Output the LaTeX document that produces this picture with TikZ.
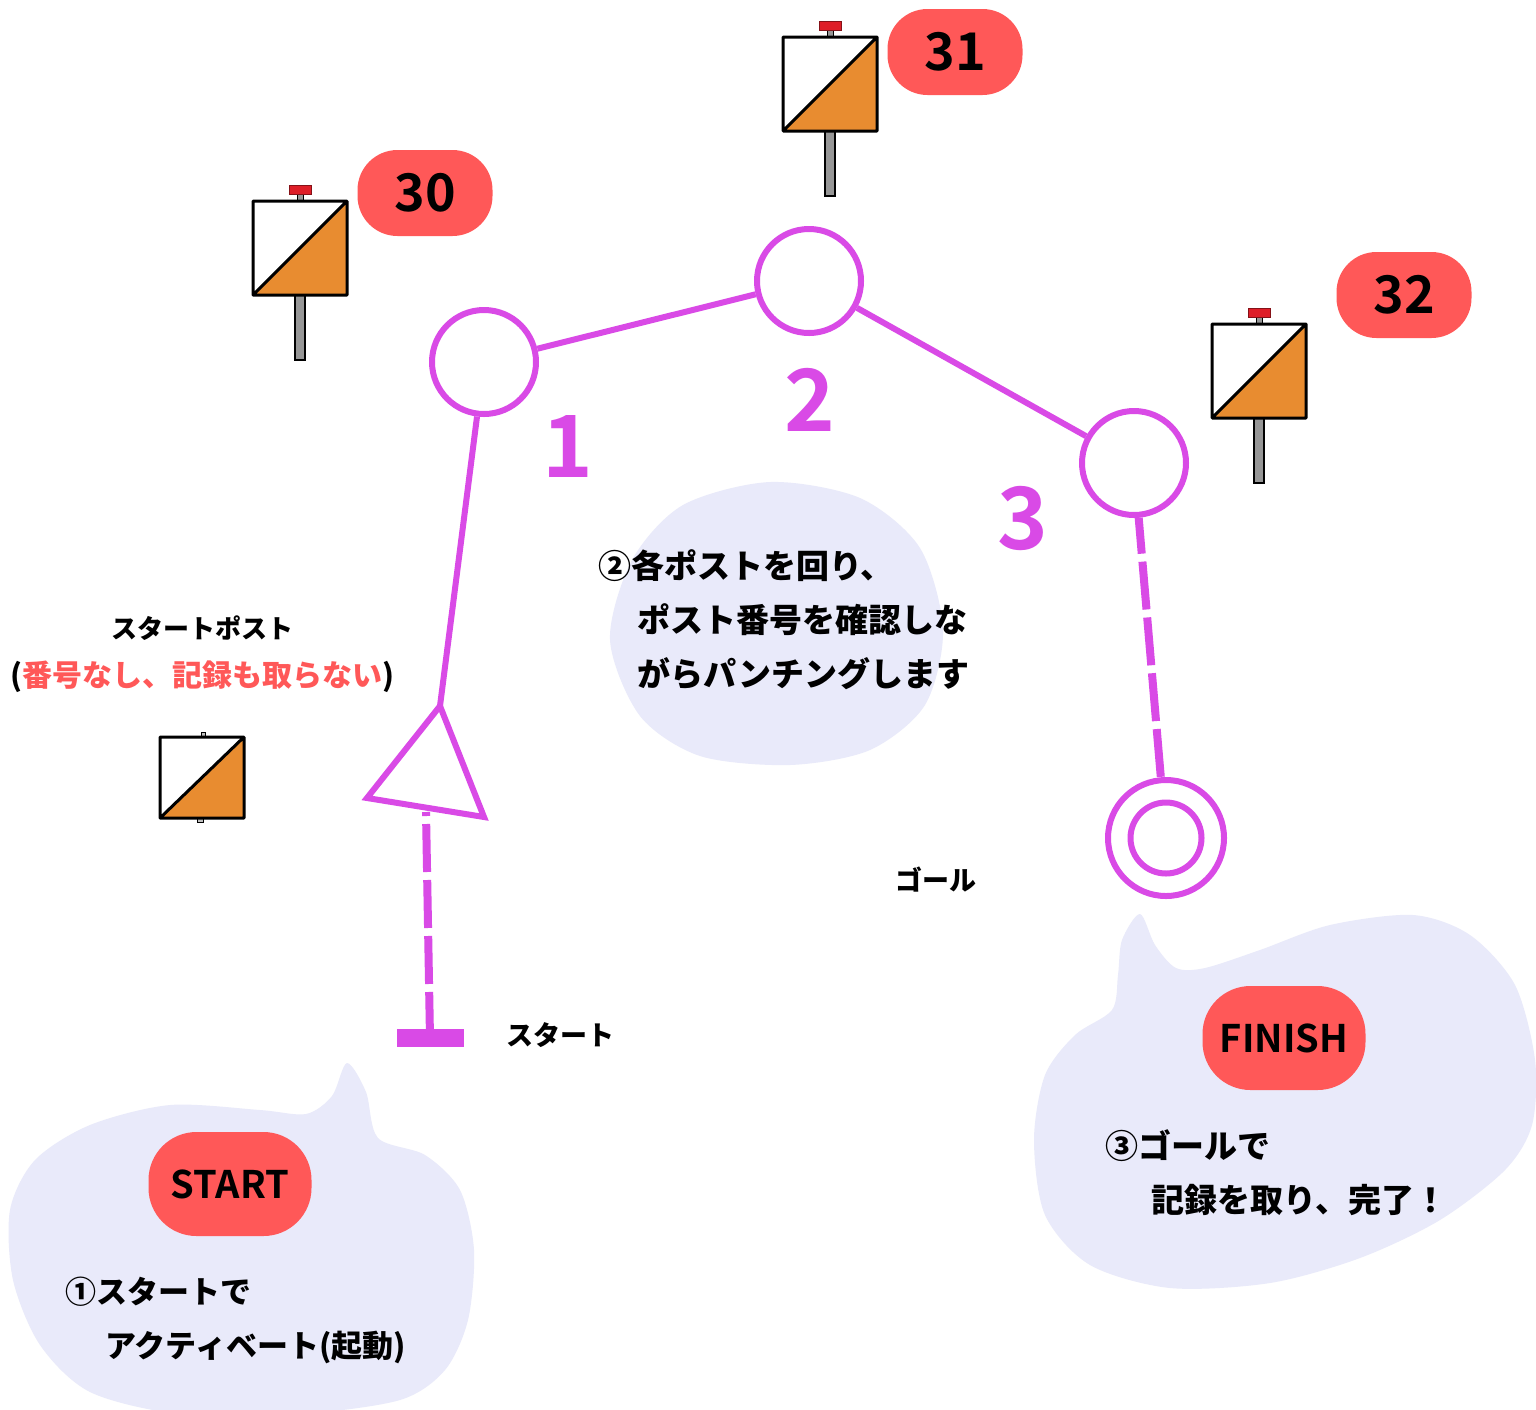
\documentclass[tikz,border=0pt]{standalone}
\usepackage{fontspec}
\usepackage{xcolor}
\newfontfamily\jpfont{Noto Sans CJK JP Bold}
\newfontfamily\jpheavy{Noto Sans CJK JP Black}
\definecolor{coursemag}{RGB}{217,74,230}
\definecolor{tagred}{RGB}{255,88,88}
\definecolor{bubblebg}{RGB}{233,234,250}
\definecolor{flagorange}{RGB}{232,140,48}
\definecolor{capred}{RGB}{222,30,40}
\definecolor{polegray}{RGB}{150,150,150}

\begin{document}
\begin{tikzpicture}[x=1pt,y=-1pt,
    post/.style={circle,draw=coursemag,line width=6pt,minimum size=104pt,inner sep=0pt},
    leg/.style={coursemag,line width=6pt},
    legdash/.style={coursemag,line width=8pt,dash pattern=on 48pt off 8pt},
    legnum/.style={text=coursemag,font=\jpfont\fontsize{86}{86}\selectfont},
    numtag/.style={fill=tagred,rounded corners=40pt,minimum width=135pt,minimum height=86pt,inner sep=0pt,font=\jpfont\fontsize{52}{52}\selectfont},
    bigtag/.style={numtag,rounded corners=48pt,minimum width=163pt,minimum height=104pt,font=\jpfont\fontsize{38}{38}\selectfont},
    note/.style={font=\jpheavy\fontsize{33}{54}\selectfont,align=left,inner sep=0pt},
    lbl/.style={font=\jpheavy\fontsize{27}{27}\selectfont,inner sep=0pt}]
        \useasboundingbox (0,0) rectangle (1536,1409);
        \fill[white] (0,0) rectangle (1536,1409);
        % speech bubbles
        \fill[bubblebg] plot[smooth cycle] coordinates {(610,640) (632,560) (683,505) (770,482) (860,498) (920,548) (943,630) (925,705) (870,750) (790,765) (700,756) (640,716)};
        \fill[bubblebg] plot[smooth cycle] coordinates {(347,1063) (366,1092) (378,1138) (425,1155) (460,1190) (474,1250) (468,1320) (445,1370) (400,1400) (300,1414) (180,1414) (90,1392) (40,1345) (13,1280) (10,1210) (35,1160) (90,1125) (170,1105) (260,1110) (306,1114) (332,1096)};
        \fill[bubblebg] plot[smooth cycle] coordinates {(1140,914) (1155,945) (1176,968) (1205,968) (1260,950) (1330,925) (1413,915) (1470,935) (1515,985) (1535,1060) (1532,1125) (1505,1170) (1440,1220) (1360,1258) (1270,1283) (1170,1288) (1090,1265) (1045,1215) (1034,1140) (1045,1075) (1075,1035) (1112,1010) (1118,975) (1122,940)};
        % course
        \node[post] (p1) at (484,362) {};
        \node[post] (p2) at (809,281) {};
        \node[post] (p3) at (1134,463) {};
        \draw[leg] (p1) -- (p2) -- (p3);
        \coordinate (tritop) at (440,706);
        \coordinate (trileft) at (367,798);
        \coordinate (triright) at (484,817);
        \coordinate (tribase) at (426,812);
        \draw[leg] (p1) -- (tritop);
        \draw[leg,line join=miter] (tritop) -- (trileft) -- (triright) -- cycle;
        \node[fill=coursemag,minimum width=67pt,minimum height=18pt,inner sep=0pt] (startbar) at (430,1038) {};
        \draw[legdash,dash phase=44pt] (tribase) -- (startbar.center);
        \node[post,minimum size=116pt] (goal) at (1166,838) {};
        \node[post,minimum size=71pt] (goalin) at (goal) {};
        \draw[legdash,dash phase=12pt] (p3) -- (goal);
        \node[legnum] (n1) at (568,446) {1};
        \node[legnum] (n2) at (810,400) {2};
        \node[legnum] (n3) at (1023,518) {3};
        % control flags
        \foreach \fx/\fy in {300/248,830/84,1259/371} {
          \filldraw[fill=polegray,line width=1.2pt] (\fx-5,\fy+47) rectangle (\fx+5,\fy+112);
          \filldraw[fill=polegray,line width=1pt] (\fx-3,\fy-56) rectangle (\fx+3,\fy-47);
          \filldraw[fill=capred,draw=capred!60!black,line width=1pt] (\fx-11,\fy-63) rectangle (\fx+11,\fy-54);
          \fill[white] (\fx-47,\fy-47) rectangle (\fx+47,\fy+47);
          \fill[flagorange] (\fx-47,\fy+47) -- (\fx+47,\fy-47) -- (\fx+47,\fy+47) -- cycle;
          \draw[line width=3pt,line join=round] (\fx-47,\fy-47) rectangle (\fx+47,\fy+47)
                (\fx-47,\fy+47) -- (\fx+47,\fy-47);
        }
        \filldraw[fill=polegray!60,line width=.8pt] (201,732) rectangle (205,737) (197,818) rectangle (203,822);
        \fill[white] (160,737) rectangle (244,818);
        \fill[flagorange] (160,818) -- (244,737) -- (244,818) -- cycle;
        \draw[line width=3pt,line join=round] (160,737) rectangle (244,818) (160,818) -- (244,737);
        % tags
        \node[numtag] (tag30) at (425,193) {30};
        \node[numtag] (tag31) at (955,52) {31};
        \node[numtag] (tag32) at (1404,295) {32};
        \node[bigtag] (starttag) at (230,1184) {START};
        \node[bigtag] (finishtag) at (1284,1038) {FINISH};
        % texts
        \node[lbl,font=\jpheavy\fontsize{26}{26}\selectfont] (sptitle) at (202,628) {スタートポスト};
        \node[lbl,font=\jpheavy\fontsize{30}{30}\selectfont] (spnote) at (202,677) {(\textcolor{tagred}{番号なし、記録も取らない})};
        \node[lbl] (startlbl) at (560,1035) {スタート};
        \node[lbl] (goallbl) at (936,880) {ゴール};
        \node[note,anchor=west] (note2) at (598,620) {②各ポストを回り、\\\hspace*{1.2em}ポスト番号を確認しな\\\hspace*{1.2em}がらパンチングします};
        \node[note,anchor=west,font=\jpheavy\fontsize{31}{54}\selectfont] (note1) at (65,1320) {①スタートで\\\hspace*{1.3em}アクティベート(起動)};
        \node[note,anchor=west] (note3) at (1105,1173) {③ゴールで\\\hspace*{1.4em}記録を取り、完了！};
\end{tikzpicture}
\end{document}
